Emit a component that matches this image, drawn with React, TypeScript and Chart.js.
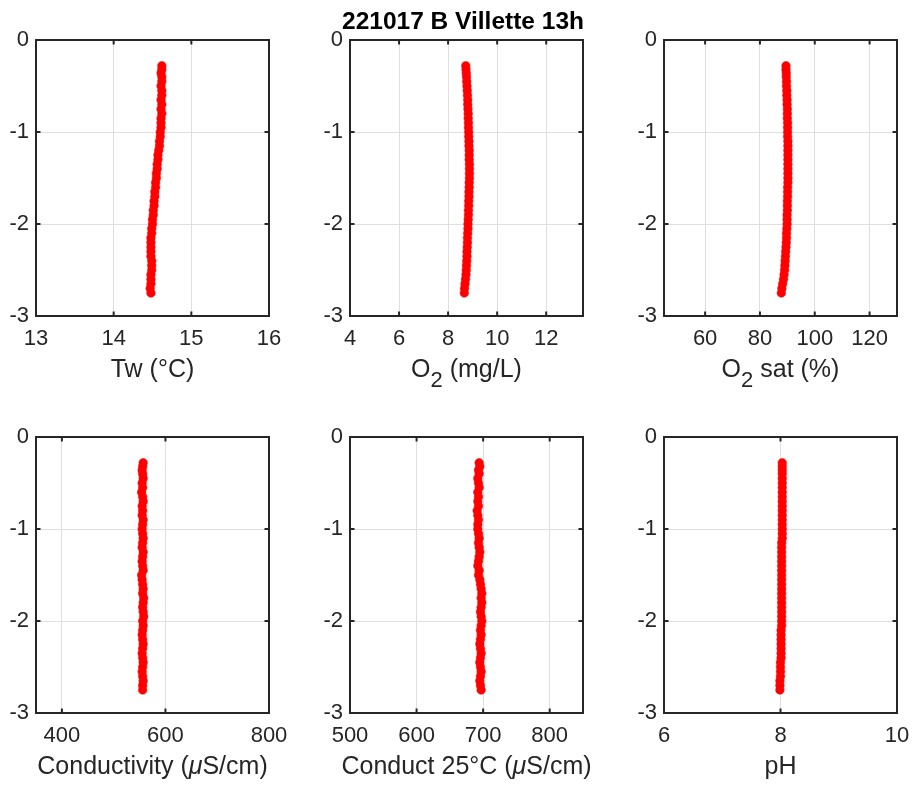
import React, { useEffect, useRef } from "react";
import { Chart, registerables } from "chart.js";

Chart.register(...registerables);

// ---------- DATA ----------
const figTitle = "221017 B Villette 13h";

const depth = [
  -0.28, -0.32, -0.36, -0.4, -0.45, -0.5, -0.55, -0.6, -0.65, -0.7, -0.75, -0.8, -0.85, -0.9, -0.95, -1.0, -1.05,
  -1.1, -1.15, -1.2, -1.25, -1.3, -1.35, -1.4, -1.45, -1.5, -1.55, -1.6, -1.65, -1.7, -1.75, -1.8, -1.85, -1.9,
  -1.95, -2.0, -2.05, -2.1, -2.15, -2.2, -2.25, -2.3, -2.35, -2.4, -2.45, -2.5, -2.55, -2.6, -2.65, -2.7, -2.75,
];

const tw = [
  14.62, 14.62, 14.61, 14.62, 14.62, 14.61, 14.62, 14.62, 14.61, 14.62, 14.61, 14.62, 14.61, 14.61, 14.61, 14.6,
  14.6, 14.59, 14.59, 14.58, 14.57, 14.57, 14.56, 14.56, 14.55, 14.55, 14.54, 14.54, 14.53, 14.53, 14.52, 14.52,
  14.51, 14.51, 14.5, 14.5, 14.49, 14.49, 14.48, 14.48, 14.48, 14.48, 14.48, 14.49, 14.49, 14.49, 14.48, 14.48,
  14.48, 14.47, 14.48,
];

const o2 = [
  8.72, 8.73, 8.74, 8.75, 8.76, 8.77, 8.78, 8.79, 8.8, 8.8, 8.81, 8.82, 8.82, 8.83, 8.83, 8.84, 8.84, 8.85, 8.85,
  8.86, 8.86, 8.86, 8.87, 8.87, 8.87, 8.87, 8.86, 8.86, 8.85, 8.85, 8.84, 8.84, 8.83, 8.83, 8.82, 8.81, 8.81, 8.8,
  8.79, 8.79, 8.78, 8.77, 8.77, 8.76, 8.75, 8.74, 8.73, 8.71, 8.69, 8.67, 8.66,
];

const o2sat = [
  89.5, 89.5, 89.6, 89.6, 89.7, 89.7, 89.8, 89.8, 89.9, 89.9, 90.0, 90.0, 90.0, 90.1, 90.1, 90.1, 90.1, 90.2, 90.2,
  90.2, 90.2, 90.2, 90.2, 90.2, 90.2, 90.2, 90.2, 90.1, 90.1, 90.1, 90.0, 90.0, 90.0, 89.9, 89.9, 89.9, 89.8, 89.7,
  89.7, 89.6, 89.5, 89.4, 89.3, 89.2, 89.1, 89.0, 88.8, 88.6, 88.3, 88.0, 87.8,
];

const cond = [
  557, 556, 555, 556, 557, 555, 556, 554, 556, 557, 555, 556, 555, 557, 556, 555, 556, 557, 556, 555, 557, 556, 555,
  556, 557, 554, 555, 556, 557, 556, 558, 557, 556, 557, 558, 556, 557, 556, 555, 556, 557, 556, 555, 556, 557, 556,
  555, 556, 557, 556, 556,
];

const cond25 = [
  694, 695, 693, 694, 692, 693, 694, 692, 693, 692, 693, 691, 692, 693, 692, 692, 693, 694, 693, 694, 695, 694, 693,
  692, 694, 693, 695, 696, 697, 698, 697, 698, 697, 696, 697, 698, 697, 696, 697, 696, 695, 696, 697, 696, 695, 696,
  697, 696, 695, 696, 697,
];

const ph = [
  8.03, 8.03, 8.03, 8.03, 8.03, 8.03, 8.03, 8.03, 8.03, 8.03, 8.03, 8.03, 8.03, 8.03, 8.03, 8.03, 8.03, 8.03, 8.02,
  8.02, 8.02, 8.02, 8.02, 8.02, 8.02, 8.02, 8.02, 8.02, 8.02, 8.02, 8.02, 8.02, 8.02, 8.02, 8.02, 8.02, 8.02, 8.01,
  8.01, 8.01, 8.01, 8.01, 8.01, 8.01, 8.0, 8.0, 8.0, 8.0, 7.99, 7.99, 7.99,
];

const yMin = -3;
const yMax = 0;
const yTicks = [0, -1, -2, -3];

const seriesList = [tw, o2, o2sat, cond, cond25, ph];
const xMins = [13, 4, 45, 350, 500, 6];
const xMaxs = [16, 13.5, 130, 800, 850, 10];
const xTicksList = [
  [13, 14, 15, 16],
  [4, 6, 8, 10, 12],
  [60, 80, 100, 120],
  [400, 600, 800],
  [500, 600, 700, 800],
  [6, 8, 10],
];

// label parts: [text, style] ; style "" normal, "sub" subscript, "it" italic
const xLabelParts: [string, string][][] = [
  [["Tw (°C)", ""]],
  [["O", ""], ["2", "sub"], [" (mg/L)", ""]],
  [["O", ""], ["2", "sub"], [" sat (%)", ""]],
  [["Conductivity (", ""], ["μ", "it"], ["S/cm)", ""]],
  [["Conduct 25°C (", ""], ["μ", "it"], ["S/cm)", ""]],
  [["pH", ""]],
];

// ---------- LAYOUT ----------
const FONT = "'Liberation Sans', Arial, Helvetica, sans-serif";
const TEXT = "#262626";
const colLeft = [36, 350, 664];
const rowTop = [40, 437];
const plotW = 233;
const plotH = 276;
const padL = 36;
const padT = 20;
const padR = 25;
const padB = 72;
const tickFont = 22;
const labelFont = 25;
const subFont = 22;

function fontFor(style: string, size: number) {
  if (style === "it") return `italic ${size}px ${FONT}`;
  return `${size}px ${FONT}`;
}

function makeFramePlugin(parts: [string, string][]) {
  return {
    id: "frame",
    afterDraw(chart: any) {
      const { ctx, chartArea: a, scales } = chart;
      ctx.save();
      ctx.strokeStyle = TEXT;
      ctx.lineWidth = 2;
      ctx.strokeRect(a.left, a.top, a.right - a.left, a.bottom - a.top);
      const tl = 4.5;
      ctx.beginPath();
      for (const t of scales.x.ticks) {
        const px = scales.x.getPixelForValue(t.value);
        if (px <= a.left + 1 || px >= a.right - 1) continue;
        ctx.moveTo(px, a.bottom);
        ctx.lineTo(px, a.bottom - tl);
        ctx.moveTo(px, a.top);
        ctx.lineTo(px, a.top + tl);
      }
      for (const t of scales.y.ticks) {
        const py = scales.y.getPixelForValue(t.value);
        if (py <= a.top + 1 || py >= a.bottom - 1) continue;
        ctx.moveTo(a.left, py);
        ctx.lineTo(a.left + tl, py);
        ctx.moveTo(a.right, py);
        ctx.lineTo(a.right - tl, py);
      }
      ctx.stroke();

      // x label with subscript / italic parts
      let total = 0;
      const widths: number[] = [];
      for (const [txt, st] of parts) {
        ctx.font = fontFor(st, st === "sub" ? subFont : labelFont);
        const w = ctx.measureText(txt).width;
        widths.push(w);
        total += w;
      }
      let x = (a.left + a.right) / 2 - total / 2;
      const baseY = a.bottom + 61;
      ctx.fillStyle = TEXT;
      ctx.textAlign = "left";
      ctx.textBaseline = "alphabetic";
      parts.forEach(([txt, st], i) => {
        ctx.font = fontFor(st, st === "sub" ? subFont : labelFont);
        ctx.fillText(txt, x, st === "sub" ? baseY + 10 : baseY);
        x += widths[i];
      });
      ctx.restore();
    },
  };
}

function Panel({ idx }: { idx: number }) {
  const ref = useRef<HTMLCanvasElement | null>(null);
  const col = idx % 3;
  const row = Math.floor(idx / 3);
  const cw = padL + plotW + padR;
  const ch = padT + plotH + padB;
  useEffect(() => {
    if (!ref.current) return;
    const xs = seriesList[idx];
    const ticksX = xTicksList[idx];
    const chart = new Chart(ref.current, {
      type: "scatter",
      data: {
        datasets: [
          {
            data: xs.map((v, i) => ({ x: v, y: depth[i] })),
            showLine: true,
            borderColor: "#5a5a5a",
            borderWidth: 0.6,
            pointRadius: 4.3,
            pointBorderWidth: 0.5,
            pointBackgroundColor: "#ff0000",
            pointBorderColor: "#ff0000",
          } as any,
        ],
      },
      options: {
        responsive: false,
        maintainAspectRatio: false,
        animation: false,
        events: [],
        layout: { padding: { top: padT, right: padR, left: 0, bottom: 0 } },
        plugins: { legend: { display: false }, tooltip: { enabled: false }, title: { display: false } },
        scales: {
          x: {
            type: "linear",
            min: xMins[idx],
            max: xMaxs[idx],
            afterBuildTicks: (s: any) => {
              s.ticks = ticksX.map((v) => ({ value: v }));
            },
            afterFit: (s: any) => {
              s.height = padB;
              s.paddingLeft = 0;
              s.paddingRight = 0;
            },
            grid: { color: "#dfdfdf", lineWidth: 1, drawTicks: false },
            border: { display: false },
            ticks: {
              padding: 10,
              color: TEXT,
              font: { family: FONT, size: tickFont },
              maxRotation: 0,
              autoSkip: false,
            },
          },
          y: {
            type: "linear",
            min: yMin,
            max: yMax,
            afterBuildTicks: (s: any) => {
              s.ticks = yTicks.map((v) => ({ value: v }));
            },
            afterFit: (s: any) => {
              s.width = padL;
              s.paddingTop = 0;
              s.paddingBottom = 0;
            },
            grid: { color: "#dfdfdf", lineWidth: 1, drawTicks: false },
            border: { display: false },
            ticks: {
              padding: 7,
              color: TEXT,
              font: { family: FONT, size: tickFont },
              autoSkip: false,
            },
          },
        },
      } as any,
      plugins: [makeFramePlugin(xLabelParts[idx])],
    });
    return () => chart.destroy();
  }, [idx]);
  return (
    <canvas
      ref={ref}
      width={cw}
      height={ch}
      style={{
        position: "absolute",
        left: colLeft[col] - padL,
        top: rowTop[row] - padT,
        width: cw,
        height: ch,
      }}
    />
  );
}

export default function App() {
  return (
    <div
      style={{
        position: "absolute",
        left: 0,
        top: 0,
        width: 915,
        height: 785,
        background: "#ffffff",
        overflow: "hidden",
      }}
    >
      {[0, 1, 2, 3, 4, 5].map((i) => (
        <Panel key={i} idx={i} />
      ))}
      <div
        style={{
          position: "absolute",
          left: 163,
          width: 600,
          top: 9,
          textAlign: "center",
          font: `bold 24.5px ${FONT}`,
          lineHeight: "24px",
          color: "#000000",
          zIndex: 2,
        }}
      >
        {figTitle}
      </div>
    </div>
  );
}
